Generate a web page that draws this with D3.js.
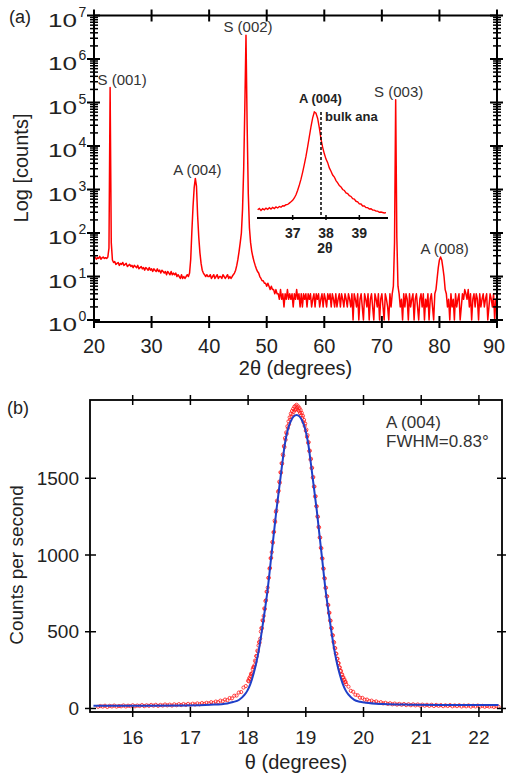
<!DOCTYPE html>
<html>
<head>
<meta charset="utf-8">
<script src="https://d3js.org/d3.v7.min.js"></script>
<style>
  body { margin: 0; background: white; }
  svg text { font-family: "Liberation Sans", Arial, sans-serif; fill: #222; }
</style>
</head>
<body>
<script>
// ---- (a) 2theta scan, counts on a 0.2 deg grid starting at 20 ----
var scanStart = 20.0, scanStep = 0.2;
var scanCounts = [
  26, 28, 25, 27, 26, 29, 25, 27, 28, 26,
  27, 26, 28, 45, 220000, 60, 24, 21, 22, 19,
  20, 21, 18, 20, 19, 21, 18, 19, 20, 17,
  18, 19, 17, 18, 16, 18, 17, 16, 18, 15,
  16, 17, 15, 16, 14, 16, 15, 14, 16, 14,
  15, 13, 15, 14, 13, 15, 13, 14, 12, 14,
  13, 12, 13, 11, 13, 12, 11, 13, 11, 12,
  11, 12, 10, 11, 10, 9, 11, 9, 10, 9,
  10, 11, 10, 12, 25, 110, 400, 1100, 1800, 1200,
  250, 80, 35, 20, 14, 12, 11, 10, 11, 10,
  10, 11, 9, 10, 11, 9, 10, 11, 9, 10,
  10, 9, 11, 10, 9, 10, 11, 9, 10, 9,
  10, 11, 12, 14, 18, 25, 38, 60, 100, 350,
  3000, 80000, 3500000, 30000, 800, 130, 60, 38, 28, 22,
  18, 15, 13, 12, 10, 9, 8, 8, 7, 7,
  6, 7, 6, 5, 6, 5, 5, 4, 5, 4,
  4, 3, 5, 3, 4, 2, 4, 3, 5, 3,
  4, 3, 4, 2, 4, 3, 5, 3, 4, 2,
  4, 2, 4, 3, 4, 2, 4, 3, 4, 2,
  3, 4, 2, 4, 3, 4, 2, 3, 4, 2,
  4, 3, 2, 4, 3, 4, 2, 4, 3, 2,
  4, 2, 3, 4, 2, 4, 3, 2, 4, 3,
  2, 4, 3, 2, 4, 1, 4, 3, 2, 4,
  1, 3, 4, 2, 1, 4, 3, 2, 4, 1,
  3, 4, 2, 1, 4, 3, 2, 4, 1, 3,
  4, 2, 1, 4, 3, 2, 1, 4, 2, 4,
  6, 60, 115000, 80, 6, 4, 2, 3, 1, 4,
  2, 4, 3, 1, 4, 2, 3, 4, 1, 3,
  4, 2, 1, 3, 4, 2, 4, 1, 3, 2,
  4, 1, 3, 4, 2, 1, 4, 5, 9, 16,
  24, 28, 24, 16, 10, 5, 4, 2, 3, 1,
  4, 2, 3, 1, 4, 2, 3, 4, 1, 2,
  4, 3, 5, 4, 3, 5, 2, 4, 1, 3,
  4, 2, 4, 3, 1, 4, 2, 3, 4, 2,
  3, 4, 1, 2, 4, 3, 2, 4, 1, 3,
  2
];
var peakNames  = ["S (001)", "A (004)", "S (002)", "S (003)", "A (008)"];
var peakAngles = [22.8, 37.6, 46.4, 72.4, 80.2];
var peakCounts = [220000, 1800, 3500000, 115000, 28];
var decades = [1, 10, 100, 1000, 10000, 100000, 1000000, 10000000];
var xTicksA = [20, 30, 40, 50, 60, 70, 80, 90];

// inset: A (004) close-up, 0.05 deg grid
var insetStart = 35.95, insetStep = 0.05;
var insetCounts = [
  140, 162, 128, 158, 139, 168, 146, 175, 152, 181,
  160, 188, 170, 196, 183, 208, 205, 226, 230, 252,
  275, 300, 340, 395, 470, 560, 660, 780, 910, 1050,
  1210, 1380, 1550, 1700, 1800, 1780, 1690, 1530, 1340, 1200,
  1090, 1000, 940, 850, 795, 730, 695, 635, 598, 550,
  528, 484, 468, 426, 415, 378, 366, 328, 322, 284,
  276, 240, 238, 204, 203, 176, 176, 152, 156, 134,
  134, 116, 116, 98, 102, 94, 86, 92
];
var insetTicks = [37, 38, 39];
var bulkAnatase = 37.85;

// ---- (b) rocking curve of A (004) ----
var rockLeftStart = 15.40, rockLeftStep = 0.04;
var rockLeft = [
  11, 16, 12, 18, 10, 17, 13, 19, 12, 16,
  14, 20, 13, 18, 15, 21, 14, 19, 16, 22,
  15, 21, 17, 23, 18, 24, 17, 23, 19, 26,
  20, 25, 19, 27, 21, 28, 22, 29, 23, 30,
  24, 31, 26, 33, 27, 35, 30, 37, 33, 41,
  36, 45, 41, 51, 47, 58, 54, 68, 66, 83,
  84, 104, 107, 136, 146
];
var rockCoreStart = 18.00, rockCoreStep = 0.01;
var rockCore = [
  181, 177, 198, 191, 209, 226, 221, 230, 256, 268,
  270, 281, 312, 305, 342, 339, 377, 371, 410, 433,
  429, 455, 501, 524, 522, 575, 570, 603, 652, 648,
  700, 705, 761, 760, 788, 851, 852, 912, 915, 979,
  981, 1019, 1085, 1080, 1148, 1151, 1224, 1215, 1281, 1290,
  1354, 1347, 1412, 1419, 1478, 1471, 1539, 1536, 1598, 1595,
  1655, 1648, 1710, 1703, 1762, 1751, 1799, 1790, 1838, 1826,
  1871, 1852, 1897, 1880, 1921, 1901, 1938, 1916, 1952, 1933,
  1966, 1944, 1972, 1950, 1979,
  1961, 1946, 1968, 1939, 1957, 1925, 1944, 1910, 1926, 1893,
  1907, 1866, 1880, 1841, 1856, 1809, 1817, 1770, 1781, 1731,
  1735, 1677, 1680, 1622, 1627, 1566, 1568, 1504, 1508, 1445,
  1446, 1381, 1383, 1318, 1317, 1251, 1249, 1183, 1180, 1114,
  1113, 1047, 1044, 979, 977, 912, 911, 849, 847, 786,
  787, 730, 731, 675, 674, 622, 624, 573, 572, 524,
  523, 478, 476, 434, 430, 394, 393, 358, 356, 323,
  324, 296, 295, 268, 267, 243, 245, 221, 222, 200,
  204, 185, 189, 171, 173, 158
];
var rockRightStart = 19.74, rockRightStep = 0.04;
var rockRight = [
  142, 115, 109, 89, 86, 70, 69, 57, 58, 48,
  51, 42, 46, 37, 41, 33, 37, 30, 34, 27,
  32, 25, 30, 24, 29, 22, 28, 21, 27, 20,
  26, 19, 25, 18, 24, 17, 24, 16, 23, 17,
  22, 15, 21, 16, 22, 14, 20, 15, 21, 13,
  19, 14, 20, 12, 18, 13, 19, 12, 17, 11,
  16, 12, 15, 10, 14, 11
];
var fitTheta = [15.32, 16.2, 16.9, 17.34, 17.64, 17.74, 17.84, 17.94,
  17.99, 18.04, 18.09, 18.14, 18.19, 18.24, 18.29, 18.34, 18.39, 18.44, 18.49, 18.54,
  18.59, 18.64, 18.69, 18.74, 18.79, 18.84,
  18.89, 18.94, 18.99, 19.04, 19.09, 19.14, 19.19, 19.24, 19.29, 19.34,
  19.39, 19.44, 19.49, 19.54, 19.59, 19.64, 19.69, 19.74,
  19.84, 19.94, 20.04, 20.34, 20.8, 21.5, 22.34];
var fitCounts = [17, 17, 19, 24, 33, 42, 55, 90,
  118, 160, 220, 295, 390, 510, 640, 780, 950, 1120, 1290, 1440,
  1590, 1730, 1820, 1872, 1903, 1913,
  1903, 1872, 1820, 1730, 1590, 1440, 1290, 1120, 950, 780,
  640, 510, 390, 295, 220, 160, 118, 90,
  56, 44, 37, 29, 25, 23, 22];
var xTicksB = [16, 17, 18, 19, 20, 21, 22];
var yTicksB = [0, 500, 1000, 1500];

function onGrid(start, step, vals) {
  return vals.map(function(v, i) { return [+(start + i * step).toFixed(3), v]; });
}

var width = 506, height = 780;
var svg = d3.select("body").append("svg")
  .attr("width", width)
  .attr("height", height);

// ================= panel (a) =================
var xA = d3.scaleLinear().domain([20, 90]).range([94, 497]);
var yA = d3.scaleLog().domain([0.9, 1e7]).range([322, 15.5]);

svg.append("clipPath").attr("id", "clipA")
  .append("rect")
  .attr("x", xA.range()[0]).attr("y", yA.range()[1] - 2)
  .attr("width", xA.range()[1] - xA.range()[0])
  .attr("height", yA.range()[0] - yA.range()[1] + 1);

var scan = onGrid(scanStart, scanStep, scanCounts);
var lineA = d3.line().x(function(d) { return xA(d[0]); }).y(function(d) { return yA(d[1]); });

svg.append("path")
  .datum(scan)
  .attr("clip-path", "url(#clipA)")
  .attr("fill", "none")
  .attr("stroke", "#ff0000")
  .attr("stroke-width", 1.5)
  .attr("stroke-linejoin", "round")
  .attr("d", lineA);

// frame
svg.append("rect")
  .attr("x", xA.range()[0]).attr("y", yA.range()[1])
  .attr("width", xA.range()[1] - xA.range()[0])
  .attr("height", yA.range()[0] - yA.range()[1])
  .attr("fill", "none").attr("stroke", "black").attr("stroke-width", 2);

// log ticks on left and right
var minorA = [];
decades.slice(0, -1).forEach(function(d) {
  for (var m = 2; m <= 9; m++) minorA.push(m * d);
});
[xA.range()[0], xA.range()[1]].forEach(function(x0) {
  svg.append("g").selectAll("line").data(decades).enter().append("line")
    .attr("x1", x0 - 7).attr("x2", x0 + 6)
    .attr("y1", function(d) { return yA(d); }).attr("y2", function(d) { return yA(d); })
    .attr("stroke", "black").attr("stroke-width", 2);
  svg.append("g").selectAll("line").data(minorA).enter().append("line")
    .attr("x1", x0 - 4).attr("x2", x0 + 4)
    .attr("y1", function(d) { return yA(d); }).attr("y2", function(d) { return yA(d); })
    .attr("stroke", "black").attr("stroke-width", 1.5);
});
// x ticks top and bottom
[yA.range()[0], yA.range()[1]].forEach(function(y0) {
  svg.append("g").selectAll("line").data(xTicksA).enter().append("line")
    .attr("x1", function(d) { return xA(d); }).attr("x2", function(d) { return xA(d); })
    .attr("y1", y0 - 6).attr("y2", y0 + 6)
    .attr("stroke", "black").attr("stroke-width", 2);
});

// y tick labels 10^n : wide "10" base plus small exponent
var ylab = svg.append("g").selectAll("g").data(decades).enter().append("g");
ylab.append("text")
  .attr("x", 48)
  .attr("y", function(d) { return yA(d) + 11; })
  .attr("textLength", 29)
  .attr("lengthAdjust", "spacingAndGlyphs")
  .style("font-size", "19px")
  .text("10");
ylab.append("text")
  .attr("x", 78.5)
  .attr("y", function(d) { return yA(d) + 1; })
  .style("font-size", "14px")
  .text(function(d) { return Math.round(Math.log10(d)); });

// last label kept inside the page edge
svg.append("g").selectAll("text").data(xTicksA).enter().append("text")
  .attr("x", function(d) { return Math.min(xA(d), width - 12); })
  .attr("y", 353)
  .attr("text-anchor", "middle")
  .style("font-size", "20px")
  .text(function(d) { return d; });

svg.append("text")
  .attr("x", (xA.range()[0] + xA.range()[1]) / 2)
  .attr("y", 375)
  .attr("text-anchor", "middle")
  .style("font-size", "20px")
  .text("2θ (degrees)");

svg.append("text")
  .attr("transform", "translate(28," + 168 + ") rotate(-90)")
  .attr("text-anchor", "middle")
  .style("font-size", "20px")
  .text("Log [counts]");

svg.append("text").attr("x", 9).attr("y", 23).style("font-size", "18px").text("(a)");

// peak labels
var labelDx = [12, 2, 2, 3, 4];
svg.append("g").selectAll("text").data(peakNames).enter().append("text")
  .attr("x", function(d, i) { return xA(peakAngles[i]) + labelDx[i]; })
  .attr("y", function(d, i) { return yA(peakCounts[i]) - 3; })
  .attr("text-anchor", "middle")
  .style("font-size", "15px")
  .style("fill", "#333")
  .text(function(d) { return d; });

// ---- inset ----
var xI = d3.scaleLinear().domain([35.93, 39.86]).range([257, 388]);
var yI = d3.scaleLinear().domain([0, 1800]).range([218, 112]);
var inset = onGrid(insetStart, insetStep, insetCounts);

svg.append("path")
  .datum(inset)
  .attr("fill", "none")
  .attr("stroke", "#ff0000")
  .attr("stroke-width", 1.4)
  .attr("d", d3.line().x(function(d) { return xI(d[0]); }).y(function(d) { return yI(d[1]); }));

svg.append("line")
  .attr("x1", xI(bulkAnatase)).attr("x2", xI(bulkAnatase))
  .attr("y1", yI(1800)).attr("y2", yI(0))
  .attr("stroke", "black").attr("stroke-width", 1.5)
  .attr("stroke-dasharray", "3,2");

svg.append("line")
  .attr("x1", xI.range()[0]).attr("x2", xI.range()[1])
  .attr("y1", yI(0)).attr("y2", yI(0))
  .attr("stroke", "black").attr("stroke-width", 2);
svg.append("g").selectAll("line").data(insetTicks).enter().append("line")
  .attr("x1", function(d) { return xI(d); }).attr("x2", function(d) { return xI(d); })
  .attr("y1", yI(0) - 3).attr("y2", yI(0) + 2)
  .attr("stroke", "black").attr("stroke-width", 1.5);
svg.append("g").selectAll("text").data(insetTicks).enter().append("text")
  .attr("x", function(d) { return xI(d); })
  .attr("y", 238)
  .attr("text-anchor", "middle")
  .style("font-size", "14px").style("font-weight", "bold")
  .text(function(d) { return d; });
svg.append("text")
  .attr("x", xI(38) - 1).attr("y", 253)
  .attr("text-anchor", "middle")
  .style("font-size", "14px").style("font-weight", "bold")
  .text("2θ");
svg.append("text")
  .attr("x", xI(37.65) + 6).attr("y", 103)
  .attr("text-anchor", "middle")
  .style("font-size", "13px").style("font-weight", "bold")
  .text("A (004)");
svg.append("text")
  .attr("x", xI(bulkAnatase) + 4).attr("y", 121)
  .style("font-size", "13px").style("font-weight", "bold")
  .text("bulk ana");

// ================= panel (b) =================
var xB = d3.scaleLinear().domain([15.26, 22.4]).range([90, 502]);
var yB = d3.scaleLinear().domain([-23, 2010]).range([712, 400]);

var rock = onGrid(rockLeftStart, rockLeftStep, rockLeft)
  .concat(onGrid(rockCoreStart, rockCoreStep, rockCore))
  .concat(onGrid(rockRightStart, rockRightStep, rockRight));

svg.append("g").selectAll("circle").data(rock).enter().append("circle")
  .attr("cx", function(d) { return xB(d[0]); })
  .attr("cy", function(d) { return yB(d[1]); })
  .attr("r", 1.6)
  .attr("fill", "none")
  .attr("stroke", "#ff1a1a")
  .attr("stroke-opacity", 0.8)
  .attr("stroke-width", 1);

var fit = fitTheta.map(function(t, i) { return [t, fitCounts[i]]; });
svg.append("path")
  .datum(fit)
  .attr("fill", "none")
  .attr("stroke", "#1f3fc8")
  .attr("stroke-width", 2)
  .attr("d", d3.line().curve(d3.curveMonotoneX)
    .x(function(d) { return xB(d[0]); }).y(function(d) { return yB(d[1]); }));

svg.append("rect")
  .attr("x", xB.range()[0]).attr("y", yB.range()[1])
  .attr("width", xB.range()[1] - xB.range()[0])
  .attr("height", yB.range()[0] - yB.range()[1])
  .attr("fill", "none").attr("stroke", "black").attr("stroke-width", 1.8);

[yB.range()[0], yB.range()[1]].forEach(function(y0) {
  svg.append("g").selectAll("line").data(xTicksB).enter().append("line")
    .attr("x1", function(d) { return xB(d); }).attr("x2", function(d) { return xB(d); })
    .attr("y1", y0 - 5).attr("y2", y0 + 5)
    .attr("stroke", "black").attr("stroke-width", 1.5);
});
[xB.range()[0], xB.range()[1]].forEach(function(x0) {
  svg.append("g").selectAll("line").data(yTicksB).enter().append("line")
    .attr("x1", x0 - 5).attr("x2", x0 + 6)
    .attr("y1", function(d) { return yB(d); }).attr("y2", function(d) { return yB(d); })
    .attr("stroke", "black").attr("stroke-width", 1.5);
});

svg.append("g").selectAll("text").data(yTicksB).enter().append("text")
  .attr("x", 79)
  .attr("y", function(d) { return yB(d); })
  .attr("dy", "0.35em")
  .attr("text-anchor", "end")
  .style("font-size", "19px")
  .text(function(d) { return d; });
svg.append("g").selectAll("text").data(xTicksB).enter().append("text")
  .attr("x", function(d) { return xB(d); })
  .attr("y", 744)
  .attr("text-anchor", "middle")
  .style("font-size", "19px")
  .text(function(d) { return d; });

svg.append("text")
  .attr("x", (xB.range()[0] + xB.range()[1]) / 2)
  .attr("y", 769)
  .attr("text-anchor", "middle")
  .style("font-size", "20px")
  .text("θ (degrees)");
svg.append("text")
  .attr("transform", "translate(23," + 565 + ") rotate(-90)")
  .attr("text-anchor", "middle")
  .style("font-size", "19px")
  .text("Counts per second");

svg.append("text").attr("x", 7).attr("y", 414).style("font-size", "18px").text("(b)");
svg.append("text").attr("x", 386).attr("y", 428).style("font-size", "17px").style("fill", "#333").text("A (004)");
svg.append("text").attr("x", 386).attr("y", 447).style("font-size", "17px").style("fill", "#333").text("FWHM=0.83°");
</script>
</body>
</html>
